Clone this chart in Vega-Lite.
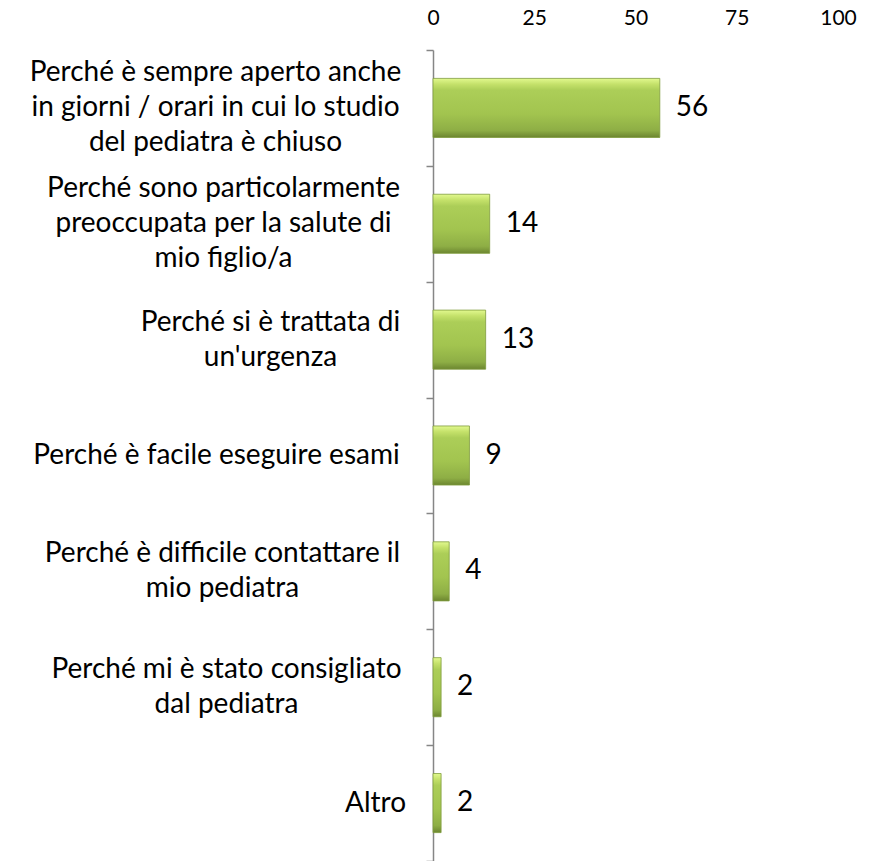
{
  "$schema": "https://vega.github.io/schema/vega-lite/v6.json",
  "autosize": "none",
  "width": 405,
  "height": 811,
  "padding": {"left": 433, "top": 50, "right": 31, "bottom": 0},
  "background": "white",
  "view": {"stroke": null},
  "data": {"values": [
    {"motivo": "Perché è sempre aperto anche|in giorni / orari in cui lo studio|del pediatra è chiuso", "valore": 56},
    {"motivo": "Perché sono particolarmente|preoccupata per la salute di|mio figlio/a", "valore": 14},
    {"motivo": "Perché si è trattata di|un'urgenza", "valore": 13},
    {"motivo": "Perché è facile eseguire esami", "valore": 9},
    {"motivo": "Perché è difficile contattare il|mio pediatra", "valore": 4},
    {"motivo": "Perché mi è stato consigliato|dal pediatra", "valore": 2},
    {"motivo": "Altro", "valore": 2}
  ]},
  "layer": [
    {
      "mark": {
        "type": "bar",
        "height": {"band": 0.51},
        "stroke": "#7f9c3c", "strokeWidth": 0.8,
        "fill": {"gradient": "linear", "x1": 0, "y1": 0, "x2": 0, "y2": 1,
          "stops": [
            {"offset": 0, "color": "#e2f98f"},
            {"offset": 0.1, "color": "#c4e16a"},
            {"offset": 0.2, "color": "#acce58"},
            {"offset": 0.6, "color": "#a2c44f"},
            {"offset": 0.88, "color": "#8eae45"},
            {"offset": 1, "color": "#6c8630"}
          ]}
      },
      "encoding": {
        "y": {
          "field": "motivo", "type": "nominal", "sort": null,
          "scale": {"paddingInner": 0, "paddingOuter": 0},
          "axis": {
            "title": null,
            "tickBand": "extent",
            "domainColor": "#868686", "domainWidth": 1.5,
            "tickColor": "#868686", "tickWidth": 1.5, "tickSize": 7,
            "labelExpr": "datum.value ? split(datum.value, '|') : ''",
            "labelFont": "Lato", "labelFontSize": 28, "labelColor": "black",
            "labelLineHeight": 35,
            "labelAlign": "center",
            "labelBaseline": "middle",
            "labelLimit": 0,
            "labelOffset": {"expr": "datum.value ? -(length(split(datum.value,'|'))-1)*17.5 : 0"},
            "labelPadding": {"expr": "!datum.value ? 0 : indexof(datum.value,'sempre')>=0 ? 211 : indexof(datum.value,'sono')>=0 ? 203 : indexof(datum.value,'trattata')>=0 ? 156 : indexof(datum.value,'facile')>=0 ? 210 : indexof(datum.value,'difficile')>=0 ? 204 : indexof(datum.value,'consigliato')>=0 ? 200 : 51"}
          }
        },
        "x": {
          "field": "valore", "type": "quantitative",
          "scale": {"domain": [0, 100], "nice": false},
          "axis": {
            "orient": "top", "title": null, "values": [0, 25, 50, 75, 100],
            "domain": false, "ticks": false, "grid": false,
            "labelFont": "Lato", "labelFontSize": 21, "labelColor": "black",
            "labelPadding": 22, "labelFlush": false
          }
        }
      }
    },
    {
      "mark": {"type": "text", "align": "left", "baseline": "middle", "dx": 16, "font": "Lato", "fontSize": 28, "color": "black"},
      "encoding": {
        "y": {"field": "motivo", "type": "nominal", "sort": null},
        "x": {"field": "valore", "type": "quantitative"},
        "text": {"field": "valore", "type": "quantitative"}
      }
    }
  ]
}
